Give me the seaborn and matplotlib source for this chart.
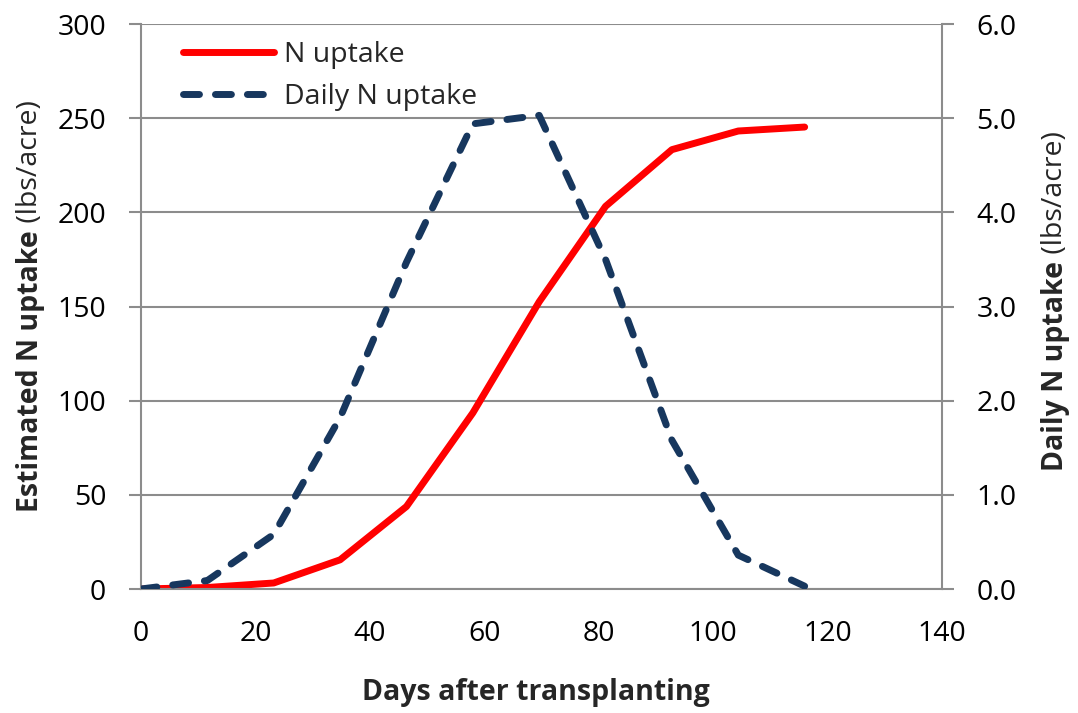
import matplotlib
matplotlib.use("Agg")
import matplotlib.pyplot as plt
import seaborn as sns
import pandas as pd

# values
days = [0, 11.6, 23.2, 34.8, 46.4, 58.0, 69.6, 81.2, 92.8, 104.4, 116.0]
n_uptake = [0, 0.8, 3.2, 15.5, 43.8, 93.5, 152.5, 203.2, 233.3, 243.2, 245.3]
daily_uptake = [0, 0.09, 0.58, 1.82, 3.47, 4.94, 5.03, 3.50, 1.58, 0.36, 0.03]

left_ticks = [0, 50, 100, 150, 200, 250, 300]
right_ticks = [0, 1, 2, 3, 4, 5, 6]
x_ticks = [0, 20, 40, 60, 80, 100, 120, 140]

RED = "#FF0000"
NAVY = "#17375E"
GRID = "#8C8C8C"
FONT = "Open Sans"
SIZE = 20.5

df = pd.DataFrame({"day": days, "n": n_uptake, "daily": daily_uptake})

sns.set_style("white")
plt.rcParams["font.family"] = [FONT, "DejaVu Sans"]

fig = plt.figure(figsize=(10.78, 7.13), dpi=100)
ax = fig.add_axes([0.1308, 0.1739, 0.7430, 0.7924])
ax2 = ax.twinx()

sns.lineplot(data=df, x="day", y="n", ax=ax, color=RED, linewidth=5,
             solid_capstyle="round", label="N uptake", legend=False)
sns.lineplot(data=df, x="day", y="daily", ax=ax2, color=NAVY, linewidth=5,
             dash_capstyle="round", label="Daily N uptake", legend=False)
ax2.lines[0].set_dashes([2.3, 2.3])

ax.set_xlim(0, 140)
ax.set_ylim(0, 300)
ax2.set_ylim(0, 6)
ax.set_xticks(x_ticks)
ax.set_yticks(left_ticks)
ax2.set_yticks(right_ticks)
ax2.set_yticklabels([f"{v:.1f}" for v in right_ticks])

ax.grid(axis="y", color=GRID, linewidth=1.5)
ax.set_axisbelow(True)
ax2.grid(False)

for a in (ax, ax2):
    for side in ("top", "left", "right", "bottom"):
        a.spines[side].set_visible(False)
    a.set_xlabel("")
    a.set_ylabel("")
for side in ("left", "bottom"):
    ax.spines[side].set_visible(True)
    ax.spines[side].set_color(GRID)
    ax.spines[side].set_linewidth(1.5)
ax2.spines["right"].set_visible(True)
ax2.spines["right"].set_color(GRID)
ax2.spines["right"].set_linewidth(1.5)

ax.tick_params(axis="both", direction="out", length=8.5, width=1.5, color=GRID,
               labelsize=SIZE, labelcolor="black")
ax.tick_params(axis="x", pad=14)
ax.tick_params(axis="y", pad=16.5)
ax2.tick_params(axis="y", direction="out", length=8.5, width=1.5, color=GRID,
                labelsize=SIZE, labelcolor="black", pad=16.5)

# legend combining both axes
handles = ax.get_lines()[:1] + ax2.get_lines()[:1]
ax2.legend(handles, ["N uptake", "Daily N uptake"], loc="upper left",
           bbox_to_anchor=(0.02, 1.015), frameon=False, fontsize=SIZE,
           handlelength=3.2, handletextpad=0.35, labelspacing=0.5)

fig.text(0.497, 0.018, "Days after transplanting", ha="center", va="baseline",
         fontsize=SIZE, fontweight="bold")


def mixed_vlabel(x, y_center, bold, regular, size=SIZE):
    # draw a vertical label whose first part is bold and the rest regular
    fig.canvas.draw()
    r = fig.canvas.get_renderer()
    t1 = fig.text(x, 0, bold, rotation=90, ha="center", va="bottom",
                  fontsize=size, fontweight="bold")
    t2 = fig.text(x, 0, " " + regular, rotation=90, ha="center", va="bottom",
                  fontsize=size)
    h1 = t1.get_window_extent(r).height / fig.bbox.height
    h2 = t2.get_window_extent(r).height / fig.bbox.height
    y0 = y_center - (h1 + h2) / 2
    t1.set_y(y0)
    t2.set_y(y0 + h1)


mixed_vlabel(0.028, 0.571, "Estimated N uptake", "(lbs/acre)")
mixed_vlabel(0.979, 0.578, "Daily N uptake", "(lbs/acre)")

fig.savefig("out.png", dpi=100)
